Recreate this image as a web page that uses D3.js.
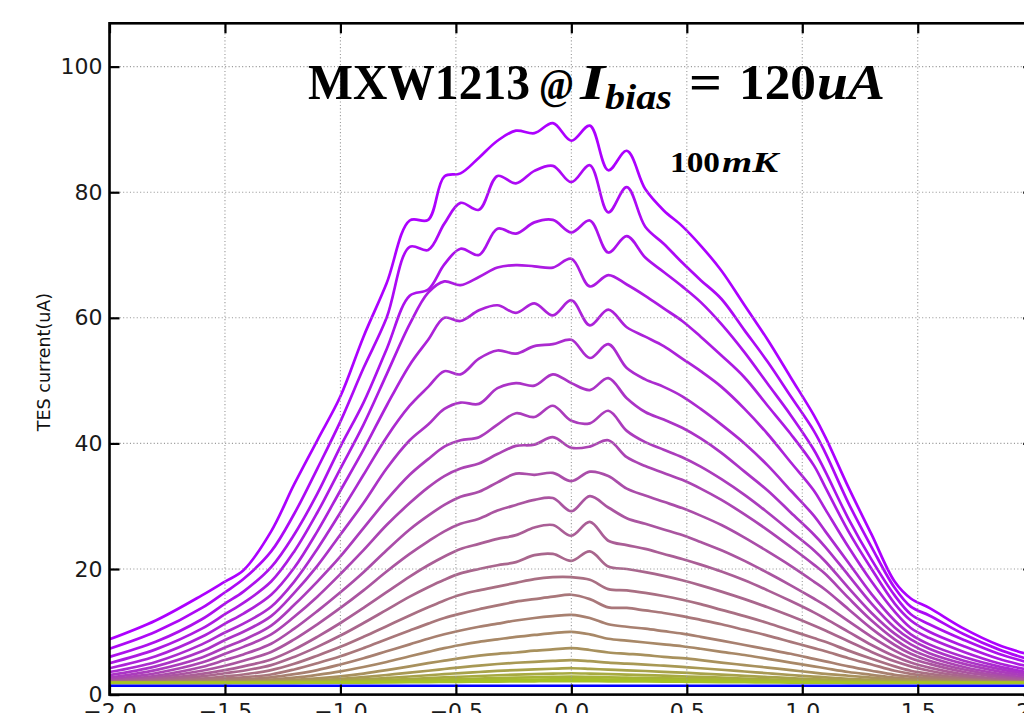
<!DOCTYPE html>
<html>
<head>
<meta charset="utf-8">
<script src="https://cdn.jsdelivr.net/npm/d3@7"></script>
<style>
  html, body { margin: 0; padding: 0; background: #ffffff; }
  svg { display: block; }
</style>
</head>
<body>
<svg id="chart" width="1024" height="713"></svg>
<script>
// Field values (x) shared by every temperature sweep
const fieldX = [-2.0, -1.8, -1.6, -1.5, -1.42, -1.3, -1.2, -1.1, -1.0, -0.9, -0.8, -0.7, -0.62, -0.55, -0.48, -0.4, -0.32, -0.24, -0.16, -0.08, 0.0, 0.08, 0.16, 0.24, 0.32, 0.4, 0.48, 0.56, 0.65, 0.75, 0.85, 0.95, 1.05, 1.1, 1.2, 1.3, 1.4, 1.47, 1.55, 1.7, 1.85, 2.0];

// TES current (uA) per temperature step, coldest (100mK) first
const sweep01 = [8.8, 11.8, 15.8, 18.0, 19.8, 26.0, 33.5, 40.5, 47.5, 57, 65.5, 75.5, 75.6, 82.5, 83, 85.5, 88.2, 89.8, 89.4, 91, 88.2, 90.6, 83.5, 86.6, 80.5, 77.1, 74.6, 71.5, 67.5, 62, 56.5, 50.5, 44.5, 41, 33, 25.5, 18, 15.3, 13.8, 10.5, 7.9, 6.2];
const sweep02 = [7.3, 10.0, 13.8, 16.3, 18.4, 22.8, 28.8, 36.0, 43.5, 52, 60, 71.3, 70.8, 75, 78.3, 77.2, 82.6, 81.4, 83.4, 84.2, 81.6, 84.3, 76.8, 80.8, 74.5, 71.8, 68.8, 66, 63, 58, 53, 47.5, 42, 38.5, 30.5, 23.5, 17, 14, 12.6, 9.6, 7.2, 5.4];
const sweep03 = [6.0, 8.4, 12.0, 14.5, 16.4, 20.3, 25.5, 32.0, 39.5, 46.5, 55, 63.5, 64.5, 68.5, 71, 70, 74.2, 73.4, 75.2, 75.6, 73.6, 75.5, 70.4, 73, 69.6, 67.3, 65, 62.5, 59, 54.5, 49.5, 44.5, 39, 35.5, 28, 21.5, 15.8, 12.8, 11.2, 8.7, 6.5, 4.9];
const sweep04 = [5.0, 7.2, 10.5, 12.8, 14.6, 18.0, 22.8, 29.0, 36, 43, 51, 59, 64, 65.8, 65.2, 66.5, 68, 68.4, 68.2, 68, 69.4, 65.0, 66.8, 65.3, 63.5, 61.5, 59.5, 57, 54, 50.5, 46, 41.5, 36.5, 33, 26, 20, 14.5, 11.8, 10, 7.7, 5.7, 4.3];
const sweep05 = [4.2, 6.1, 9.2, 11.3, 12.9, 15.9, 20.2, 26.0, 32.5, 39, 46, 52.5, 56.5, 60, 59.5, 61.2, 62, 60.8, 62.3, 60.4, 62.8, 58.8, 61.3, 58.5, 57, 55.5, 53.5, 51.5, 49, 45.5, 41.5, 37, 32.5, 29.5, 23.5, 18, 13.2, 10.6, 9.0, 6.8, 5.0, 3.8];
const sweep06 = [3.6, 5.2, 8.0, 9.9, 11.3, 14.0, 18.0, 23.2, 29, 35, 41, 46, 49, 51.5, 51, 53.5, 54.8, 54.3, 55.5, 55.8, 56.5, 53.6, 55.8, 52, 50.2, 49, 47.5, 45.5, 43, 40, 36.5, 32.5, 28.5, 26, 21, 16, 11.8, 9.6, 8.0, 6.0, 4.5, 3.4];
const sweep07 = [3.1, 4.5, 6.9, 8.7, 10.0, 12.5, 16.2, 20.5, 25.5, 30.5, 36, 40.5, 43, 45.5, 46.5, 46.3, 48.8, 49.6, 49.2, 51, 49.6, 48.5, 50.4, 47.2, 45, 43.8, 42.5, 40.8, 38.5, 35.5, 32.5, 29, 25.5, 23.5, 19, 14.5, 10.7, 8.8, 7.3, 5.4, 4.1, 3.1];
const sweep08 = [2.7, 3.9, 5.9, 7.5, 8.7, 11.0, 14.3, 18, 22, 26.5, 31, 35, 37.5, 39.5, 40.5, 41, 43, 44.8, 44.2, 46, 43.6, 43.2, 45.2, 42, 40.2, 39, 37.8, 36.3, 34.3, 31.8, 29, 26, 23, 21.2, 17, 13, 9.7, 8.0, 6.6, 4.9, 3.7, 2.8];
const sweep09 = [2.45, 3.4, 5.1, 6.5, 7.6, 9.6, 12.4, 15.6, 19.2, 23, 27, 30.5, 33, 34.8, 36, 36.8, 38.3, 39.6, 39.8, 41, 39.3, 39.5, 40.5, 37.8, 36.4, 35.3, 34.2, 32.8, 31, 28.7, 26.2, 23.5, 20.7, 19.2, 15.4, 11.8, 8.8, 7.2, 6.0, 4.4, 3.3, 2.5];
const sweep10 = [2.25, 3.0, 4.4, 5.5, 6.4, 8.1, 10.5, 13.3, 16.3, 19.5, 23, 26.3, 28.5, 30.2, 31.5, 32.3, 33.8, 35.2, 35, 35.3, 34, 35.5, 34.8, 32.8, 31.7, 30.7, 29.7, 28.5, 27, 25, 22.8, 20.5, 18, 16.7, 13.6, 10.5, 7.9, 6.5, 5.4, 4.0, 3.0, 2.35];
const sweep11 = [2.15, 2.7, 3.8, 4.6, 5.4, 6.8, 8.8, 11.2, 13.8, 16.6, 19.6, 22.4, 24.4, 26, 27.2, 28, 29.3, 30.2, 31, 31.3, 29.2, 31.6, 29.8, 28.1, 27.2, 26.3, 25.4, 24.3, 23, 21.3, 19.4, 17.4, 15.3, 14.2, 11.7, 9.2, 7.0, 5.8, 4.9, 3.6, 2.8, 2.25];
const sweep12 = [2.05, 2.45, 3.3, 3.9, 4.5, 5.6, 7.2, 9.2, 11.4, 13.8, 16.3, 18.8, 20.6, 22, 23.2, 24, 24.8, 25.4, 26.6, 27, 25.3, 27.5, 24.5, 23.8, 23.2, 22.4, 21.6, 20.7, 19.6, 18.2, 16.6, 14.9, 13.1, 12.1, 10.0, 7.9, 6.1, 5.1, 4.3, 3.2, 2.5, 2.1];
const sweep13 = [2.0, 2.3, 2.9, 3.4, 3.8, 4.7, 6.0, 7.6, 9.4, 11.4, 13.5, 15.6, 17.1, 18.3, 19.3, 20, 20.6, 21.1, 22.2, 22.4, 21.3, 22.8, 20.4, 20, 19.5, 18.9, 18.2, 17.4, 16.4, 15.2, 13.9, 12.5, 11, 10.2, 8.5, 6.8, 5.3, 4.5, 3.8, 2.9, 2.3, 2.0];
const sweep14 = [1.98, 2.15, 2.55, 2.9, 3.2, 3.9, 4.9, 6.2, 7.6, 9.2, 10.9, 12.6, 13.9, 15, 15.9, 16.6, 17.2, 17.8, 18.4, 18.7, 18.7, 18.3, 16.8, 16.6, 16.2, 15.7, 15.1, 14.4, 13.5, 12.5, 11.4, 10.2, 9.0, 8.4, 7.0, 5.7, 4.5, 3.8, 3.3, 2.6, 2.2, 2.0];
const sweep15 = [1.96, 2.05, 2.3, 2.55, 2.75, 3.2, 4.0, 5.0, 6.1, 7.4, 8.8, 10.2, 11.3, 12.2, 12.9, 13.6, 14.2, 14.8, 15.2, 15.6, 15.9, 15.2, 13.9, 13.8, 13.4, 13.0, 12.5, 11.9, 11.2, 10.3, 9.4, 8.4, 7.4, 6.9, 5.8, 4.8, 3.8, 3.3, 2.9, 2.45, 2.1, 1.96];
const sweep16 = [1.95, 2.0, 2.15, 2.3, 2.45, 2.75, 3.25, 3.9, 4.8, 5.8, 6.9, 8.0, 8.9, 9.6, 10.2, 10.8, 11.3, 11.8, 12.2, 12.5, 12.7, 12.2, 11.2, 10.8, 10.5, 10.1, 9.7, 9.2, 8.6, 7.9, 7.2, 6.5, 5.7, 5.3, 4.5, 3.8, 3.15, 2.85, 2.6, 2.25, 2.05, 1.95];
const sweep17 = [1.94, 1.96, 2.05, 2.12, 2.2, 2.4, 2.7, 3.15, 3.7, 4.4, 5.2, 6.1, 6.8, 7.4, 7.9, 8.4, 8.8, 9.2, 9.5, 9.8, 10.0, 9.6, 8.9, 8.6, 8.3, 8.0, 7.7, 7.3, 6.8, 6.3, 5.7, 5.1, 4.5, 4.2, 3.6, 3.15, 2.7, 2.5, 2.3, 2.1, 2.0, 1.94];
const sweep18 = [1.93, 1.94, 1.98, 2.02, 2.07, 2.17, 2.33, 2.57, 2.9, 3.35, 3.9, 4.5, 5.0, 5.4, 5.8, 6.2, 6.5, 6.7, 7.0, 7.2, 7.4, 7.1, 6.7, 6.5, 6.3, 6.0, 5.8, 5.5, 5.1, 4.7, 4.3, 3.9, 3.5, 3.3, 3.0, 2.7, 2.42, 2.27, 2.15, 2.02, 1.96, 1.93];
const sweep19 = [1.92, 1.93, 1.95, 1.97, 2.0, 2.06, 2.16, 2.3, 2.5, 2.78, 3.12, 3.5, 3.8, 4.08, 4.33, 4.62, 4.87, 5.07, 5.22, 5.36, 5.5, 5.32, 5.08, 4.93, 4.78, 4.6, 4.4, 4.2, 3.96, 3.68, 3.4, 3.12, 2.87, 2.75, 2.52, 2.33, 2.18, 2.1, 2.04, 1.97, 1.93, 1.92];
const sweep20 = [1.91, 1.92, 1.93, 1.94, 1.96, 2.0, 2.06, 2.15, 2.27, 2.44, 2.65, 2.88, 3.08, 3.26, 3.43, 3.6, 3.77, 3.9, 4.02, 4.12, 4.2, 4.1, 3.97, 3.87, 3.76, 3.63, 3.49, 3.35, 3.18, 2.99, 2.8, 2.62, 2.46, 2.39, 2.26, 2.15, 2.07, 2.02, 1.98, 1.94, 1.92, 1.91];
const sweep21 = [1.9, 1.9, 1.91, 1.92, 1.93, 1.95, 1.99, 2.04, 2.11, 2.21, 2.34, 2.48, 2.61, 2.73, 2.84, 2.96, 3.08, 3.18, 3.27, 3.34, 3.4, 3.34, 3.25, 3.18, 3.1, 3.01, 2.91, 2.81, 2.69, 2.56, 2.42, 2.3, 2.19, 2.14, 2.06, 2.0, 1.96, 1.94, 1.92, 1.91, 1.9, 1.9];
const sweep22 = [1.9, 1.9, 1.9, 1.91, 1.91, 1.92, 1.94, 1.97, 2.01, 2.07, 2.15, 2.24, 2.32, 2.4, 2.47, 2.55, 2.63, 2.7, 2.76, 2.81, 2.85, 2.81, 2.75, 2.7, 2.65, 2.59, 2.53, 2.46, 2.39, 2.3, 2.21, 2.13, 2.06, 2.03, 1.98, 1.95, 1.93, 1.92, 1.91, 1.9, 1.9, 1.9];
const sweep23 = [1.88, 1.88, 1.88, 1.88, 1.89, 1.9, 1.91, 1.93, 1.95, 1.99, 2.03, 2.08, 2.13, 2.17, 2.22, 2.27, 2.32, 2.36, 2.4, 2.43, 2.45, 2.43, 2.4, 2.37, 2.33, 2.29, 2.25, 2.21, 2.16, 2.11, 2.05, 2.0, 1.96, 1.94, 1.92, 1.9, 1.89, 1.89, 1.88, 1.88, 1.88, 1.88];
const sweep24 = [1.86, 1.86, 1.86, 1.87, 1.87, 1.87, 1.88, 1.89, 1.9, 1.92, 1.95, 1.97, 1.99, 2.01, 2.03, 2.06, 2.08, 2.1, 2.12, 2.14, 2.15, 2.14, 2.12, 2.11, 2.09, 2.07, 2.05, 2.02, 2.0, 1.97, 1.94, 1.92, 1.9, 1.89, 1.88, 1.87, 1.87, 1.86, 1.86, 1.86, 1.86, 1.86];

// Superconducting reference level (flat, drawn in blue)
const baselineX = [-2.0, 2.0];
const baselineY = [1.4, 1.4];

const xTickValues = [-2.0, -1.5, -1.0, -0.5, 0.0, 0.5, 1.0, 1.5, 2.0];
const yTickValues = [0, 20, 40, 60, 80, 100];
const yLabelText = "TES current(uA)";
const tempLabel = ["100", "mK"];

const sweeps = [sweep01, sweep02, sweep03, sweep04, sweep05, sweep06, sweep07, sweep08,
                sweep09, sweep10, sweep11, sweep12, sweep13, sweep14, sweep15, sweep16,
                sweep17, sweep18, sweep19, sweep20, sweep21, sweep22, sweep23, sweep24];

// ---- layout ----
const plot = { left: 109.5, right: 1033.2, top: 23.3, bottom: 694.6 };

const svg = d3.select("#chart");

const x = d3.scaleLinear().domain([-2, 2]).range([plot.left, plot.right]);
const y = d3.scaleLinear().domain([0, 106.9]).range([plot.bottom, plot.top]);

// colour ramp from the coldest (violet) to the warmest (yellow-green) sweep
const colourAt = d3.interpolateRgb("#ad00ff", "#a6c424");

svg.append("defs").append("clipPath").attr("id", "plot-clip")
  .append("rect")
  .attr("x", plot.left).attr("y", plot.top)
  .attr("width", plot.right - plot.left).attr("height", plot.bottom - plot.top);

const line = d3.line()
  .defined(d => d[1] != null)
  .x(d => x(d[0]))
  .y(d => y(d[1]))
  .curve(d3.curveCatmullRom.alpha(0.5));

const curves = svg.append("g").attr("clip-path", "url(#plot-clip)");

sweeps.forEach((vals, i) => {
  const pts = fieldX.map((fx, k) => [fx, vals[k]]);
  curves.append("path")
    .attr("d", line(pts))
    .attr("fill", "none")
    .attr("stroke", colourAt(i / (sweeps.length - 1)))
    .attr("stroke-width", 2.7)
    .attr("stroke-linejoin", "round");
});

curves.append("path")
  .attr("d", line(baselineX.map((bx, k) => [bx, baselineY[k]])))
  .attr("fill", "none")
  .attr("stroke", "#0000ff")
  .attr("stroke-width", 2.6);

// dotted grid
const grid = svg.append("g")
  .attr("stroke", "#9a9a9a")
  .attr("stroke-width", 1.1)
  .attr("stroke-dasharray", "1.1,2.3");
grid.selectAll("line.gx").data(xTickValues).join("line")
  .attr("x1", d => x(d)).attr("x2", d => x(d))
  .attr("y1", plot.top).attr("y2", plot.bottom);
grid.selectAll("line.gy").data(yTickValues).join("line")
  .attr("x1", plot.left).attr("x2", plot.right)
  .attr("y1", d => y(d)).attr("y2", d => y(d));

// axes: inward ticks on all four sides, labels on bottom and left
const fmtX = d3.format(".1f");
const fmtY = d3.format("d");

function styleAxis(g) {
  g.select(".domain").remove();
  g.selectAll(".tick line").attr("stroke", "#000").attr("stroke-width", 2.2);
  g.selectAll(".tick text")
    .attr("fill", "#1a1a1a")
    .style("font-family", "'DejaVu Sans', sans-serif")
    .style("font-size", "22px");
}

svg.append("g")
  .attr("transform", `translate(0,${plot.bottom})`)
  .call(d3.axisBottom(x).tickValues(xTickValues).tickFormat(fmtX).tickSizeInner(-10).tickSizeOuter(0).tickPadding(9))
  .call(styleAxis);

svg.append("g")
  .attr("transform", `translate(${plot.left},0)`)
  .call(d3.axisLeft(y).tickValues(yTickValues).tickFormat(fmtY).tickSizeInner(-10).tickSizeOuter(0).tickPadding(7))
  .call(styleAxis);

svg.append("g")
  .attr("transform", `translate(0,${plot.top})`)
  .call(d3.axisTop(x).tickValues(xTickValues).tickFormat("").tickSizeInner(-10).tickSizeOuter(0))
  .call(styleAxis);

svg.append("g")
  .attr("transform", `translate(${plot.right},0)`)
  .call(d3.axisRight(y).tickValues(yTickValues).tickFormat("").tickSizeInner(-10).tickSizeOuter(0))
  .call(styleAxis);

// frame
svg.append("rect")
  .attr("x", plot.left).attr("y", plot.top)
  .attr("width", plot.right - plot.left).attr("height", plot.bottom - plot.top)
  .attr("fill", "none").attr("stroke", "#000").attr("stroke-width", 2.6);

// y axis label
svg.append("text")
  .attr("transform", `translate(49.5,362) rotate(-90)`)
  .attr("text-anchor", "middle")
  .style("font-family", "'DejaVu Sans', sans-serif")
  .style("font-size", "17.5px")
  .attr("fill", "#111")
  .text(yLabelText);

// title: MXW1213 @I_bias = 120uA
const serif = "'Liberation Serif', 'Times New Roman', serif";
const title = svg.append("g").attr("fill", "#000")
  .style("font-family", serif).style("font-weight", "bold");

function piece(txt, px, py, size, italic, len) {
  const t = title.append("text")
    .attr("x", px).attr("y", py)
    .style("font-size", size + "px")
    .style("font-style", italic ? "italic" : "normal")
    .text(txt);
  if (len) t.attr("textLength", len).attr("lengthAdjust", "spacingAndGlyphs");
  return t;
}
piece("MXW1213", 308, 98.5, 50, false, 222);
piece("@", 539, 98.5, 44, false, 35);
piece("I", 580, 98.5, 50, true, 25);
piece("bias", 605, 108.5, 36, true, 67);
piece("=", 689, 98.5, 50, false, 33);
piece("120", 739, 98.5, 50, false, 77);
piece("uA", 817, 98.5, 50, true, 68);

piece(tempLabel[0], 670, 171.5, 30, false, 50);
piece(tempLabel[1], 722, 171.5, 30, true, 56);
</script>
</body>
</html>
